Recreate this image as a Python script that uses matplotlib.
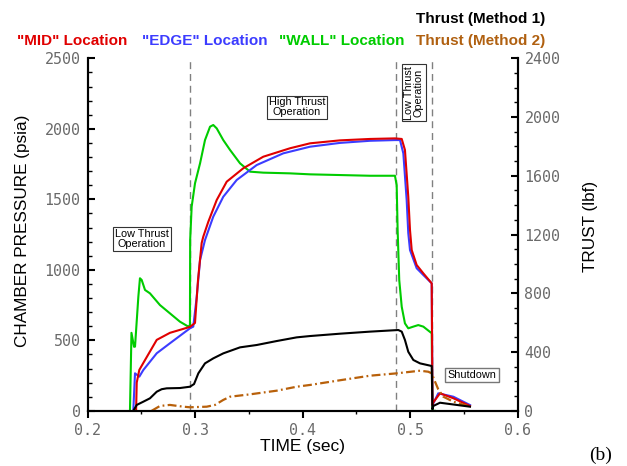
import numpy as np
import matplotlib
matplotlib.use('Agg')
import matplotlib.pyplot as plt
from matplotlib.ticker import MultipleLocator

plt.rcParams['font.family'] = ['Liberation Sans', 'DejaVu Sans']

# presión de cámara (psia) en las tres ubicaciones
t_mid = [0.2452, 0.2458, 0.2482, 0.2519, 0.2644, 0.2767, 0.2953, 0.3000, 0.3028, 0.3062,
         0.3077, 0.3124, 0.3202, 0.3295, 0.3449, 0.3635, 0.3884, 0.4070, 0.4349, 0.4628,
         0.4860, 0.4923, 0.4953, 0.4984, 0.5000, 0.5016, 0.5062, 0.5124, 0.5202, 0.5209,
         0.5217, 0.5279, 0.5403, 0.5558]
p_mid = [0, 200, 290, 339, 503, 553, 595, 623, 928, 1190,
         1235, 1341, 1495, 1625, 1720, 1802, 1862, 1897, 1918, 1928,
         1932, 1928, 1850, 1518, 1282, 1140, 1034, 975, 904, 40,
         60, 124, 89, 34]

t_edge = [0.2426, 0.2442, 0.2482, 0.2519, 0.2644, 0.2767, 0.2953, 0.2984, 0.3016, 0.3047,
          0.3093, 0.3170, 0.3263, 0.3388, 0.3574, 0.3821, 0.4070, 0.4349, 0.4628, 0.4860,
          0.4907, 0.4938, 0.4969, 0.4984, 0.5000, 0.5062, 0.5124, 0.5202, 0.5209, 0.5217,
          0.5263, 0.5403, 0.5558]
p_edge = [0, 266, 242, 289, 408, 479, 585, 597, 809, 1069,
          1211, 1377, 1518, 1637, 1743, 1826, 1873, 1900, 1915, 1920,
          1920, 1826, 1495, 1260, 1140, 1011, 963, 904, 40, 53,
          124, 100, 41]

t_wall = [0.2395, 0.2409, 0.2433, 0.2442, 0.2473, 0.2488, 0.2504, 0.2535, 0.2581, 0.2674,
          0.2767, 0.2860, 0.2938, 0.2953, 0.2955, 0.2969, 0.3000, 0.3047, 0.3093, 0.3140,
          0.3170, 0.3202, 0.3263, 0.3326, 0.3419, 0.3512, 0.3635, 0.3884, 0.4070, 0.4628,
          0.4860, 0.4876, 0.4885, 0.4900, 0.4923, 0.4953, 0.4984, 0.5031, 0.5077, 0.5124,
          0.5202, 0.5209, 0.5230]
p_wall = [0, 553, 454, 455, 809, 940, 928, 857, 833, 750,
          691, 632, 597, 608, 1211, 1448, 1613, 1755, 1920, 2015,
          2027, 2003, 1920, 1850, 1755, 1696, 1689, 1684, 1677, 1667,
          1667, 1600, 1280, 927, 738, 620, 585, 597, 608, 597,
          550, 0, 0]

# empuje (lbf) por los dos métodos
t_th1 = [0.2426, 0.2458, 0.2519, 0.2581, 0.2644, 0.2690, 0.2737, 0.2860, 0.2953, 0.2991,
         0.3031, 0.3093, 0.3170, 0.3263, 0.3419, 0.3574, 0.3760, 0.3946, 0.4070, 0.4349,
         0.4628, 0.4891, 0.4923, 0.4953, 0.4984, 0.5031, 0.5093, 0.5202, 0.5209, 0.5217,
         0.5279, 0.5372, 0.5558]
f_th1 = [0, 40, 62, 85, 130, 147, 153, 155, 164, 182,
         255, 323, 357, 391, 432, 448, 475, 500, 509, 525,
         539, 550, 539, 482, 402, 346, 323, 305, 10, 33,
         55, 46, 28]

t_th2 = [0.2597, 0.2674, 0.2767, 0.2891, 0.2953, 0.3109, 0.3186, 0.3263, 0.3326, 0.3512,
         0.3760, 0.3946, 0.4070, 0.4349, 0.4628, 0.4876, 0.5093, 0.5170, 0.5202, 0.5233,
         0.5263, 0.5310, 0.5403, 0.5558]
f_th2 = [0, 33, 40, 28, 24, 28, 40, 74, 96, 112,
         137, 164, 176, 208, 239, 255, 273, 266, 255, 198,
         146, 96, 62, 28]

fases = [0.2953, 0.4870, 0.5208]

W, H = 627, 466
fig = plt.figure(figsize=(W / 100, H / 100), dpi=100)
ax = fig.add_axes([87.5 / W, 55.2 / H, 430 / W, 352.5 / H])
ax2 = ax.twinx()

for xv in fases:
    ax.axvline(xv, color='#808080', lw=1.0, dashes=(5, 3.5))

ax.plot(t_wall, p_wall, color='#00cc00', lw=1.5)
ax.plot(t_edge, p_edge, color='#3c3cff', lw=1.5)
ax.plot(t_mid, p_mid, color='#e00000', lw=1.5)

ax2.plot(t_th2, f_th2, color='#b8600a', lw=1.6, dashes=(4, 1.5, 0.8, 1.5))
ax2.plot(t_th1, f_th1, color='black', lw=1.5)

ax.set_xlim(0.2, 0.6)
ax.set_ylim(0, 2500)
ax2.set_ylim(0, 2400)

ax.xaxis.set_major_locator(MultipleLocator(0.1))
ax.xaxis.set_minor_locator(MultipleLocator(0.05))
ax.yaxis.set_major_locator(MultipleLocator(500))
ax.yaxis.set_minor_locator(MultipleLocator(100))
ax2.yaxis.set_major_locator(MultipleLocator(400))
ax2.yaxis.set_minor_locator(MultipleLocator(100))
ax.set_xticks(ax.get_xticks())
ax.set_xticklabels(['%.1f' % v for v in ax.get_xticks()])
for lab in ax.get_xticklabels() + ax.get_yticklabels() + ax2.get_yticklabels():
    lab.set_fontfamily('DejaVu Sans Mono')
    lab.set_fontsize(10.8)
    lab.set_color('#6a6a6a')

ax.tick_params(axis='x', which='major', direction='out', length=5, width=1.5, pad=4)
ax.tick_params(axis='x', which='minor', direction='out', length=2.5, width=1)
ax.tick_params(axis='y', which='major', direction='in', length=5, width=1.5, pad=5)
ax.tick_params(axis='y', which='minor', direction='in', length=3, width=1)
ax2.tick_params(axis='y', which='major', direction='in', length=5, width=1.5, pad=5)
ax2.tick_params(axis='y', which='minor', direction='in', length=3, width=1)

for a in (ax, ax2):
    a.spines['top'].set_visible(False)
    for s in ('left', 'right', 'bottom'):
        a.spines[s].set_linewidth(1.5)

ax.set_xlim(0.2, 0.6)

fig.text(23 / W, 1 - 231 / H, 'CHAMBER PRESSURE (psia)', rotation=90, fontsize=12.3,
         ha='center', va='center')
fig.text(590 / W, 1 - 226 / H, 'TRUST (lbf)', rotation=90, fontsize=12.3,
         ha='center', va='center')
fig.text(302 / W, 1 - 447 / H, 'TIME (sec)', fontsize=12.5, ha='center', va='center')
fig.text(601 / W, 1 - 455 / H, '(b)', fontsize=14, family='Liberation Serif',
         ha='center', va='center')

# leyenda de colores en la parte superior
fig.text(17 / W, 1 - 41 / H, '"MID" Location', color='#e00000', fontsize=11,
         fontweight='bold', va='center')
fig.text(142 / W, 1 - 41 / H, '"EDGE" Location', color='#3c3cff', fontsize=11,
         fontweight='bold', va='center')
fig.text(279 / W, 1 - 41 / H, '"WALL" Location', color='#00cc00', fontsize=11,
         fontweight='bold', va='center')
fig.text(416 / W, 1 - 19 / H, 'Thrust (Method 1)', color='black', fontsize=11,
         fontweight='bold', va='center')
fig.text(416 / W, 1 - 41 / H, 'Thrust (Method 2)', color='#b06010', fontsize=11,
         fontweight='bold', va='center')

# cuadros de fases
caja = dict(boxstyle='square,pad=0.15', fc='white', ec='#333333', lw=0.8)
ax.text(0.2507, 1218, 'Low Thrust\nOperation', fontsize=7.8, ha='center', va='center',
        linespacing=1.0, bbox=caja)
ax.text(0.3949, 2152, 'High Thrust\nOperation', fontsize=7.8, ha='center', va='center',
        linespacing=1.0, bbox=caja)
ax.text(0.5037, 2257, 'Low Thrust\nOperation', fontsize=7.8, ha='center', va='center',
        linespacing=1.0, rotation=90, bbox=caja)
ax.text(0.5577, 256, 'Shutdown', fontsize=7.8, ha='center', va='center',
        bbox=dict(boxstyle='square,pad=0.2', fc='white', ec='#777777', lw=1.0))

fig.savefig('out.png', dpi=100)
